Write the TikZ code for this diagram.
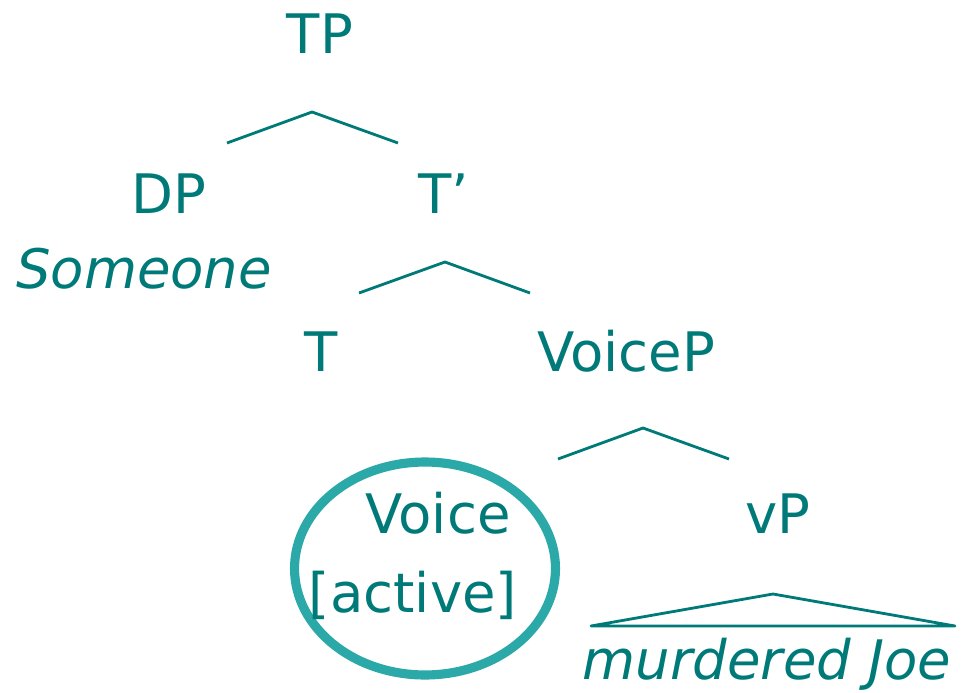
\documentclass[tikz,border=0pt]{standalone}
\usepackage{fontspec}
\setmainfont{DejaVu Sans}
\usetikzlibrary{shapes.geometric}
\definecolor{treeteal}{HTML}{007A78}
\definecolor{ringteal}{HTML}{2BA8A8}
\tikzset{
  cat/.style={anchor=base, inner sep=0pt, text=treeteal, font=\fontsize{31}{37}\selectfont},
  word/.style={cat, font=\fontsize{31}{37}\selectfont\itshape},
  branch/.style={draw=treeteal, line width=1.6pt, line join=round},
  ring/.style={ellipse, draw=ringteal, line width=5.2pt, minimum width=5.22cm, minimum height=4.26cm, inner sep=0pt}
}

\begin{document}
\begin{tikzpicture}[x=0.02cm,y=-0.02cm]
\useasboundingbox (0,0) rectangle (964,693);

% highlighted head
\node[ring] (ring) at (425,568.5) {};

% labels
\node[cat] (tp) at (320,53) {TP};
\node[cat] (dp) at (169,213) {DP};
\node[word] (someone) at (144,288) {Someone};
\node[cat] (tbar) at (444,213) {T’};
\node[cat] (t) at (321,371) {T};
\node[cat] (voicep) at (626,371) {VoiceP};
\node[cat] (voice) at (438,533) {Voice};
\node[cat] (active) at (413,612) {[active]};
\node[cat] (vp) at (778,533) {vP};
\node[word] (joe) at (767,679) {murdered Joe};

% branch points
\coordinate (tp-l) at (227,143); \coordinate (tp-m) at (312,112); \coordinate (tp-r) at (398,143);
\coordinate (tb-l) at (359,293); \coordinate (tb-m) at (445,262); \coordinate (tb-r) at (530,293);
\coordinate (vo-l) at (558,459); \coordinate (vo-m) at (643,428); \coordinate (vo-r) at (729,459);
\coordinate (vp-l) at (591,626); \coordinate (vp-m) at (773,594); \coordinate (vp-r) at (955,626);

\draw[branch] (tp-l) -- (tp-m) -- (tp-r);
\draw[branch] (tb-l) -- (tb-m) -- (tb-r);
\draw[branch] (vo-l) -- (vo-m) -- (vo-r);
\draw[branch] (vp-l) -- (vp-m) -- (vp-r) -- cycle;
\end{tikzpicture}
\end{document}
